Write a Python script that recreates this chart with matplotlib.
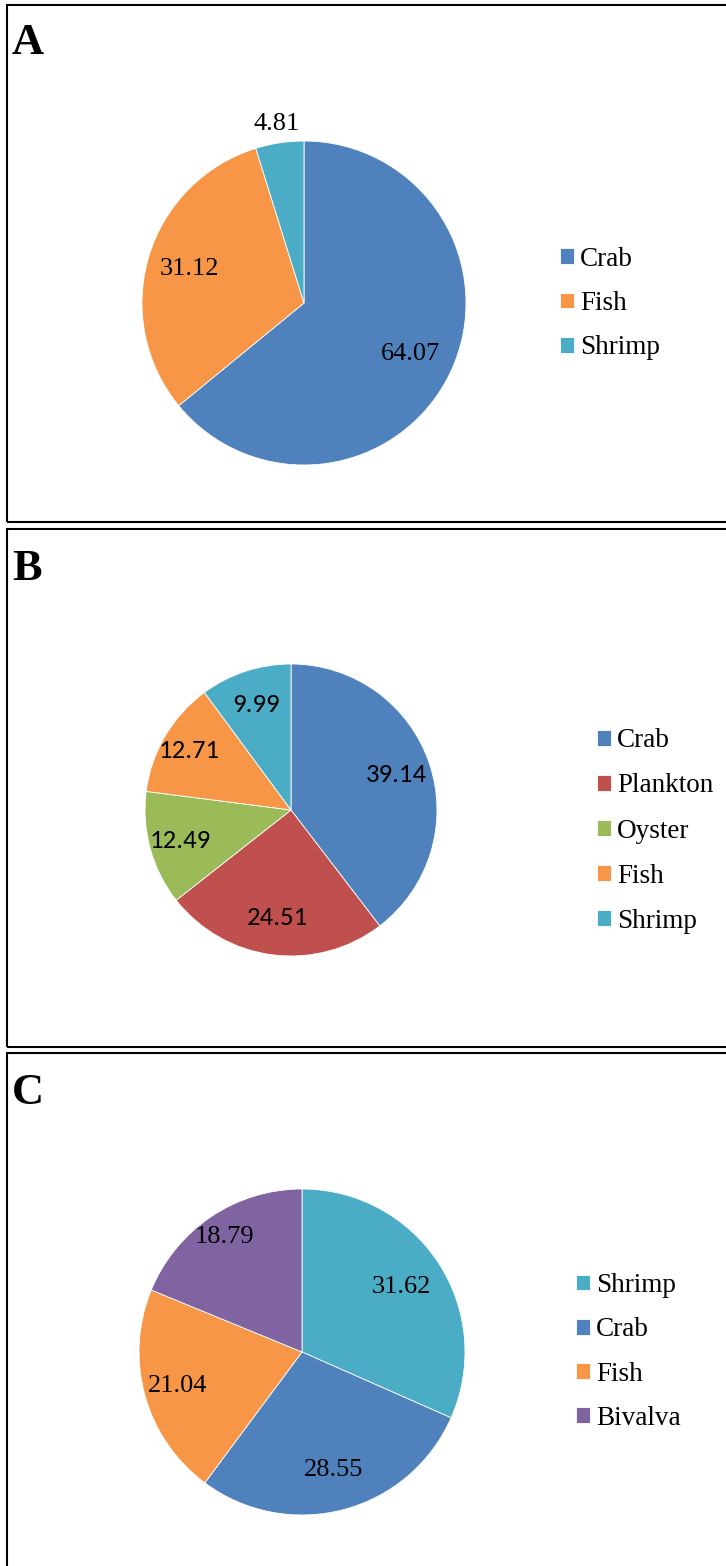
import matplotlib
matplotlib.use("Agg")
import matplotlib.pyplot as plt
from matplotlib.patches import Rectangle
from matplotlib import font_manager as fm
import numpy as np

W, H = 726, 1566

# ---- data ----
a_labels = ["Crab", "Fish", "Shrimp"]
a_values = [64.07, 31.12, 4.81]
b_labels = ["Crab", "Plankton", "Oyster", "Fish", "Shrimp"]
b_values = [39.14, 24.51, 12.49, 12.71, 9.99]
c_labels = ["Shrimp", "Crab", "Fish", "Bivalva"]
c_values = [31.62, 28.55, 21.04, 18.79]

BLUE = "#4F81BD"; ORANGE = "#F79646"; CYAN = "#4BACC6"
RED = "#C0504D"; GREEN = "#9BBB59"; PURPLE = "#8064A2"
a_colors = [BLUE, ORANGE, CYAN]
b_colors = [BLUE, RED, GREEN, ORANGE, CYAN]
c_colors = [CYAN, BLUE, ORANGE, PURPLE]

SERIF = ["Liberation Serif", "DejaVu Serif"]
try:
    fm.findfont(fm.FontProperties(family="Carlito"), fallback_to_default=False)
    SANS = ["Carlito", "DejaVu Sans"]
    SANS_SIZE = 19.3
except Exception:
    SANS = ["Lato", "Liberation Sans", "DejaVu Sans"]
    SANS_SIZE = 17.5

fig = plt.figure(figsize=(W / 100, H / 100), dpi=100)


def px_rect(x0, y0, x1, y1):
    # convert pixel box (top-left origin) to figure fraction
    return [x0 / W, 1 - y1 / H, (x1 - x0) / W, (y1 - y0) / H]


# panel borders
for (x0, y0, x1, y1) in [(7, 5, 740, 522), (7, 529, 740, 1047), (7, 1053, 740, 1580)]:
    fig.patches.append(Rectangle((x0 / W, 1 - y1 / H), (x1 - x0) / W, (y1 - y0) / H,
                                 transform=fig.transFigure, fill=False,
                                 edgecolor="black", linewidth=1.5, clip_on=False))

# panel letters
for letter, ybase in [("A", 54), ("B", 580), ("C", 1104)]:
    fig.text(12 / W, 1 - ybase / H, letter, fontsize=32, fontweight="bold",
             family=SERIF, ha="left", va="baseline")


def draw_pie(cx, cy, r, values, colors, labels, dists, font, fsize,
             leg_x, leg_y, leg_spacing):
    ax = fig.add_axes(px_rect(cx - r, cy - r, cx + r, cy + r))
    wedges, _ = ax.pie(values, colors=colors, startangle=90, counterclock=False,
                       radius=1.0, wedgeprops=dict(edgecolor="white", linewidth=0.6))
    ax.set_xlim(-1, 1)
    ax.set_ylim(-1, 1)
    ax.set_aspect("equal")
    ax.axis("off")
    for w, v, d in zip(wedges, values, dists):
        ang = np.deg2rad((w.theta1 + w.theta2) / 2)
        ax.text(d * np.cos(ang), d * np.sin(ang), f"{v:.2f}", ha="center",
                va="center", fontsize=fsize, family=font, clip_on=False)
    fig.legend(wedges, labels, loc="center left",
               bbox_to_anchor=(leg_x / W, 1 - leg_y / H),
               frameon=False, prop=dict(family=SERIF, size=19.5),
               handlelength=0.52, handleheight=0.52, handletextpad=0.22,
               labelspacing=leg_spacing, borderpad=0, borderaxespad=0)


draw_pie(304, 303, 162, a_values, a_colors, a_labels, [0.73, 0.74, 1.12],
         SERIF, 19, 560, 303.5, 0.71)
draw_pie(291, 810, 146, b_values, b_colors, b_labels, [0.76, 0.74, 0.79, 0.81, 0.76],
         SANS, SANS_SIZE, 597, 831, 0.74)
draw_pie(302, 1352, 163, c_values, c_colors, c_labels, [0.73, 0.75, 0.79, 0.85],
         SERIF, 19, 576, 1352, 0.71)

fig.savefig("out.png", dpi=100, facecolor="white")
